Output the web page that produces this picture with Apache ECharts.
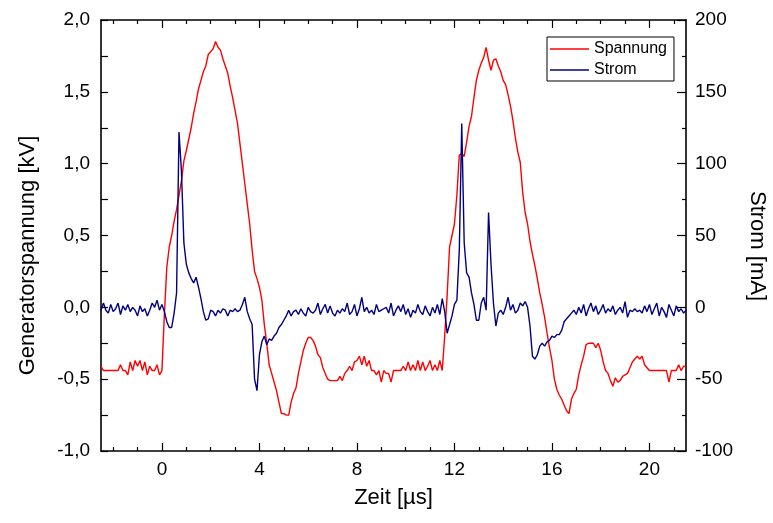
<!DOCTYPE html>
<html>
<head>
<meta charset="utf-8">
<script src="https://cdn.jsdelivr.net/npm/echarts@6/dist/echarts.min.js"></script>
<style>
html,body{margin:0;padding:0;background:#fff;}
#chart{width:773px;height:523px;}
</style>
</head>
<body>
<div id="chart"></div>
<script>
// Sample grid of the oscilloscope trace (µs)
const timeStartUs = -2.5;
const timeStepUs = 0.1;

// Generatorspannung [kV], one value per 0.1 µs starting at -2.5 µs
const spannungKV = [
  -0.41,-0.44,-0.44,-0.44,-0.44,-0.44,-0.44,-0.44,-0.40,-0.44,
  -0.44,-0.47,-0.38,-0.44,-0.37,-0.41,-0.37,-0.44,-0.38,-0.47,
  -0.41,-0.44,-0.44,-0.40,-0.47,-0.44,-0.05,0.28,0.42,0.50,
  0.60,0.68,0.78,0.88,1.02,1.09,1.17,1.25,1.35,1.43,
  1.52,1.58,1.64,1.68,1.76,1.78,1.80,1.85,1.81,1.79,
  1.73,1.68,1.63,1.54,1.46,1.37,1.28,1.14,1.00,0.86,
  0.72,0.58,0.40,0.25,0.20,0.14,0.05,-0.12,-0.25,-0.40,
  -0.46,-0.52,-0.58,-0.66,-0.74,-0.74,-0.75,-0.75,-0.66,-0.60,
  -0.56,-0.46,-0.38,-0.30,-0.25,-0.21,-0.21,-0.23,-0.27,-0.33,
  -0.35,-0.42,-0.46,-0.50,-0.51,-0.51,-0.51,-0.51,-0.48,-0.51,
  -0.46,-0.44,-0.41,-0.44,-0.38,-0.37,-0.34,-0.40,-0.34,-0.41,
  -0.37,-0.44,-0.44,-0.47,-0.44,-0.52,-0.44,-0.46,-0.46,-0.52,
  -0.44,-0.44,-0.44,-0.44,-0.41,-0.44,-0.38,-0.44,-0.40,-0.44,
  -0.37,-0.44,-0.38,-0.44,-0.41,-0.37,-0.44,-0.40,-0.44,-0.37,
  -0.44,-0.20,0.08,0.42,0.50,0.58,0.78,1.06,1.07,1.05,
  1.15,1.26,1.33,1.46,1.58,1.65,1.70,1.74,1.81,1.72,
  1.65,1.72,1.73,1.68,1.64,1.58,1.55,1.48,1.40,1.30,
  1.18,1.08,1.01,0.80,0.66,0.58,0.46,0.37,0.29,0.20,
  0.10,0.02,-0.07,-0.18,-0.28,-0.37,-0.50,-0.57,-0.61,-0.64,
  -0.68,-0.72,-0.74,-0.64,-0.60,-0.57,-0.47,-0.40,-0.34,-0.26,
  -0.25,-0.25,-0.25,-0.28,-0.25,-0.30,-0.38,-0.44,-0.46,-0.51,
  -0.55,-0.49,-0.52,-0.51,-0.48,-0.47,-0.46,-0.42,-0.38,-0.36,
  -0.34,-0.36,-0.34,-0.40,-0.42,-0.44,-0.44,-0.44,-0.44,-0.44,
  -0.44,-0.44,-0.44,-0.52,-0.44,-0.44,-0.44,-0.40,-0.44,-0.41,
  -0.41
];

// Strom [mA], same sample grid
const stromMA = [
  -2,3,-2,-4,2,-3,-1,3,-5,1,
  -2,2,-3,0,-2,-6,1,-3,-1,-6,
  -2,3,0,5,-2,2,-3,-10,-14,-14,
  -4,10,122,95,45,30,24,20,17,21,
  14,6,-3,-9,-8,-2,-3,-6,-2,-4,
  -1,-2,-6,-2,-3,-1,-3,-2,2,7,
  -3,-8,-12,-50,-58,-33,-24,-20,-26,-22,
  -23,-20,-18,-14,-12,-9,-6,-2,-6,-3,
  -2,-5,-1,-4,-6,0,-3,-4,-2,3,
  -5,-1,2,-4,1,-4,-6,-2,-4,-1,
  -3,3,-5,-3,2,-6,-1,7,-3,0,
  -4,-2,-5,2,-3,-2,-1,0,-4,3,
  -6,-2,1,-3,2,-5,-1,-7,-2,-4,
  2,-3,-5,1,-3,-6,0,-4,2,-5,
  6,-3,-18,-12,-6,2,5,40,128,45,
  24,21,10,2,-9,-9,3,7,-2,66,
  30,3,-13,-4,-2,-5,0,7,-2,2,
  -4,-2,3,1,4,0,-13,-34,-36,-33,
  -27,-25,-27,-24,-23,-20,-21,-19,-19,-16,
  -10,-8,-6,-4,-2,-5,0,-4,2,-6,
  -1,3,-3,1,-5,-2,2,-4,-1,-3,
  1,-5,-2,0,-4,4,-7,-2,-3,-1,
  -3,-2,-4,1,-3,2,-5,-1,3,-6,
  0,-3,-7,2,-2,-6,1,-3,-1,-4,
  -2
];

const seriesNames = ['Spannung', 'Strom'];
const xMajorTicks = [0, 4, 8, 12, 16, 20];
const xMinorTicks = [-2, -1, 1, 2, 3, 5, 6, 7, 9, 10, 11, 13, 14, 15, 17, 18, 19, 21];

const timeUs = spannungKV.map((_, i) => Math.round((timeStartUs + i * timeStepUs) * 100) / 100);
const spannungData = timeUs.map((t, i) => [t, spannungKV[i]]);
const stromData = timeUs.map((t, i) => [t, stromMA[i]]);

const FONT = 'Liberation Sans, Arial, sans-serif';
const black = '#000';

function xAxisDef(pos, ticks, len, showLine, showLabel, name) {
  return {
    type: 'value', position: pos, min: -2.5, max: 21.5, gridIndex: 0,
    axisLine: { show: showLine, onZero: false, lineStyle: { color: black, width: 1.6 } },
    axisTick: { show: true, inside: true, length: len, customValues: ticks, lineStyle: { color: black, width: 1.2 } },
    axisLabel: showLabel ? { show: true, customValues: xMajorTicks, margin: 9, fontSize: 19, color: black, fontFamily: FONT } : { show: false },
    splitLine: { show: false },
    name: name || '', nameLocation: 'middle', nameGap: 36,
    nameTextStyle: { fontSize: 22, color: black, fontFamily: FONT }
  };
}

const chart = echarts.init(document.getElementById('chart'), null, { renderer: 'canvas' });
chart.setOption({
  animation: false,
  backgroundColor: '#fff',
  grid: { left: 101, right: 87, top: 20, bottom: 72, containLabel: false, outerBoundsMode: 'none' },
  legend: {
    orient: 'vertical', left: 547, top: 37,
    data: seriesNames,
    icon: 'rect',
    backgroundColor: '#fff', borderColor: black, borderWidth: 1, borderRadius: 0,
    padding: [4, 7, 3, 3], itemGap: 5, itemWidth: 39, itemHeight: 1.6,
    textStyle: { fontSize: 16, color: black, fontFamily: FONT, lineHeight: 16 }
  },
  xAxis: [
    xAxisDef('bottom', xMajorTicks, 8, true, true, 'Zeit [µs]'),
    xAxisDef('bottom', xMinorTicks, 4, false, false),
    xAxisDef('top', xMajorTicks, 8, true, false),
    xAxisDef('top', xMinorTicks, 4, false, false)
  ],
  yAxis: [
    {
      type: 'value', position: 'left', min: -1, max: 2, interval: 0.5,
      axisLine: { show: true, onZero: false, lineStyle: { color: black, width: 1.6 } },
      axisTick: { show: true, inside: true, length: 7, lineStyle: { color: black, width: 1.2 } },
      minorTick: { show: true, splitNumber: 2, length: 7, lineStyle: { color: black, width: 1.2 } },
      axisLabel: { margin: 11, fontSize: 19, color: black, fontFamily: FONT,
        formatter: v => v.toFixed(1).replace('.', ',') },
      splitLine: { show: false }, minorSplitLine: { show: false },
      name: 'Generatorspannung [kV]', nameLocation: 'middle', nameGap: 62,
      nameTextStyle: { fontSize: 22, color: black, fontFamily: FONT, padding: [0, 40, 0, 0] }
    },
    {
      type: 'value', position: 'right', min: -100, max: 200, interval: 50,
      axisLine: { show: true, onZero: false, lineStyle: { color: black, width: 1.6 } },
      axisTick: { show: true, inside: true, length: 9, lineStyle: { color: black, width: 1.2 } },
      minorTick: { show: true, splitNumber: 2, length: 4, lineStyle: { color: black, width: 1.2 } },
      axisLabel: { margin: 9, fontSize: 19, color: black, fontFamily: FONT },
      splitLine: { show: false }, minorSplitLine: { show: false },
      name: 'Strom [mA]', nameLocation: 'middle', nameGap: 60, nameRotate: -90,
      nameTextStyle: { fontSize: 22, color: black, fontFamily: FONT, padding: [0, 0, 0, 21] }
    }
  ],
  series: [
    {
      name: seriesNames[0], type: 'line', xAxisIndex: 0, yAxisIndex: 0,
      data: spannungData, symbol: 'none', showSymbol: false,
      lineStyle: { color: '#ff0000', width: 1.4 }, itemStyle: { color: '#ff0000' }
    },
    {
      name: seriesNames[1], type: 'line', xAxisIndex: 0, yAxisIndex: 1,
      data: stromData, symbol: 'none', showSymbol: false,
      lineStyle: { color: '#000080', width: 1.4 }, itemStyle: { color: '#000080' }
    }
  ]
});
</script>
</body>
</html>
